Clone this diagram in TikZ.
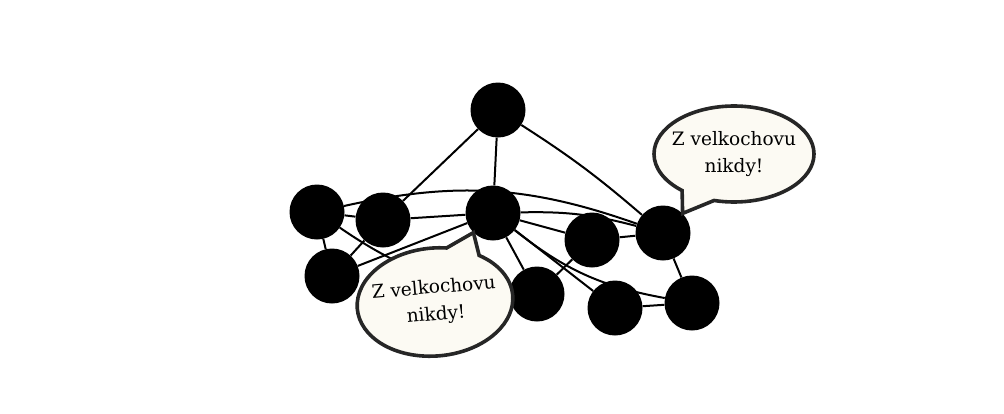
\documentclass[tikz,border=0pt]{standalone}
\usepackage{fontspec}
\newfontfamily\bubblefont{DejaVu Serif}
\usetikzlibrary{shapes.callouts}
\usetikzlibrary{backgrounds}
\tikzset{x=1pt,y=1pt,
    every node/.style={inner sep=0pt},
    blob/.style={
        circle,
        fill=black,
        minimum size=55pt},
    every edge/.style={
        draw,
        line width=2pt},
    bubble/.style={
        ellipse callout,
        callout pointer arc=26,
        inner xsep=-8pt,
        draw=black!85,
        line width=3.6pt,
        fill={rgb,255:red,252;green,250;blue,243},
        align=center,
        font=\bubblefont\fontsize{18.5}{27}\selectfont}}

\begin{document}
\begin{tikzpicture}
        \useasboundingbox (0,0) rectangle (1004,-413);
        \node[blob] (top) at (498,-110) {};
        \node[blob] (a) at (317,-212) {};
        \node[blob] (b) at (383,-220) {};
        \node[blob] (c) at (493,-213) {};
        \node[blob] (d) at (332,-276) {};
        \node[blob] (e) at (537,-294) {};
        \node[blob] (f) at (592,-240) {};
        \node[blob] (g) at (663,-233) {};
        \node[blob] (h) at (615,-308) {};
        \node[blob] (i) at (692,-303) {};

        \begin{scope}[on background layer]
        \draw (top) edge (b) (top) edge (c) (top) edge[bend left=4] (g);
        \draw (a) edge (b) (a) edge (d) (a) edge[bend left=16] (g);
        \draw (a) edge[bend right=14] (e);
        \draw (b) edge (c) (d) edge (b) (d) edge (c);
        \draw (c) edge[bend left=8] (g) (c) edge (f) (c) edge (e);
        \draw (c) edge (h) (c) edge[bend right=14] (i);
        \draw (e) edge (f) (f) edge (g) (g) edge (i) (h) edge (i);
        \end{scope}

        \node[bubble,minimum width=156pt,minimum height=108pt,rotate=5,
            callout absolute pointer={(c.south west)}] (say1) at (435,-302)
            {Z velkochovu\\nikdy!};
        \node[bubble,minimum width=160pt,minimum height=96pt,
            callout absolute pointer={(g.north east)}] (say2) at (734,-154)
            {Z velkochovu\\nikdy!};
    \end{tikzpicture}
\end{document}
